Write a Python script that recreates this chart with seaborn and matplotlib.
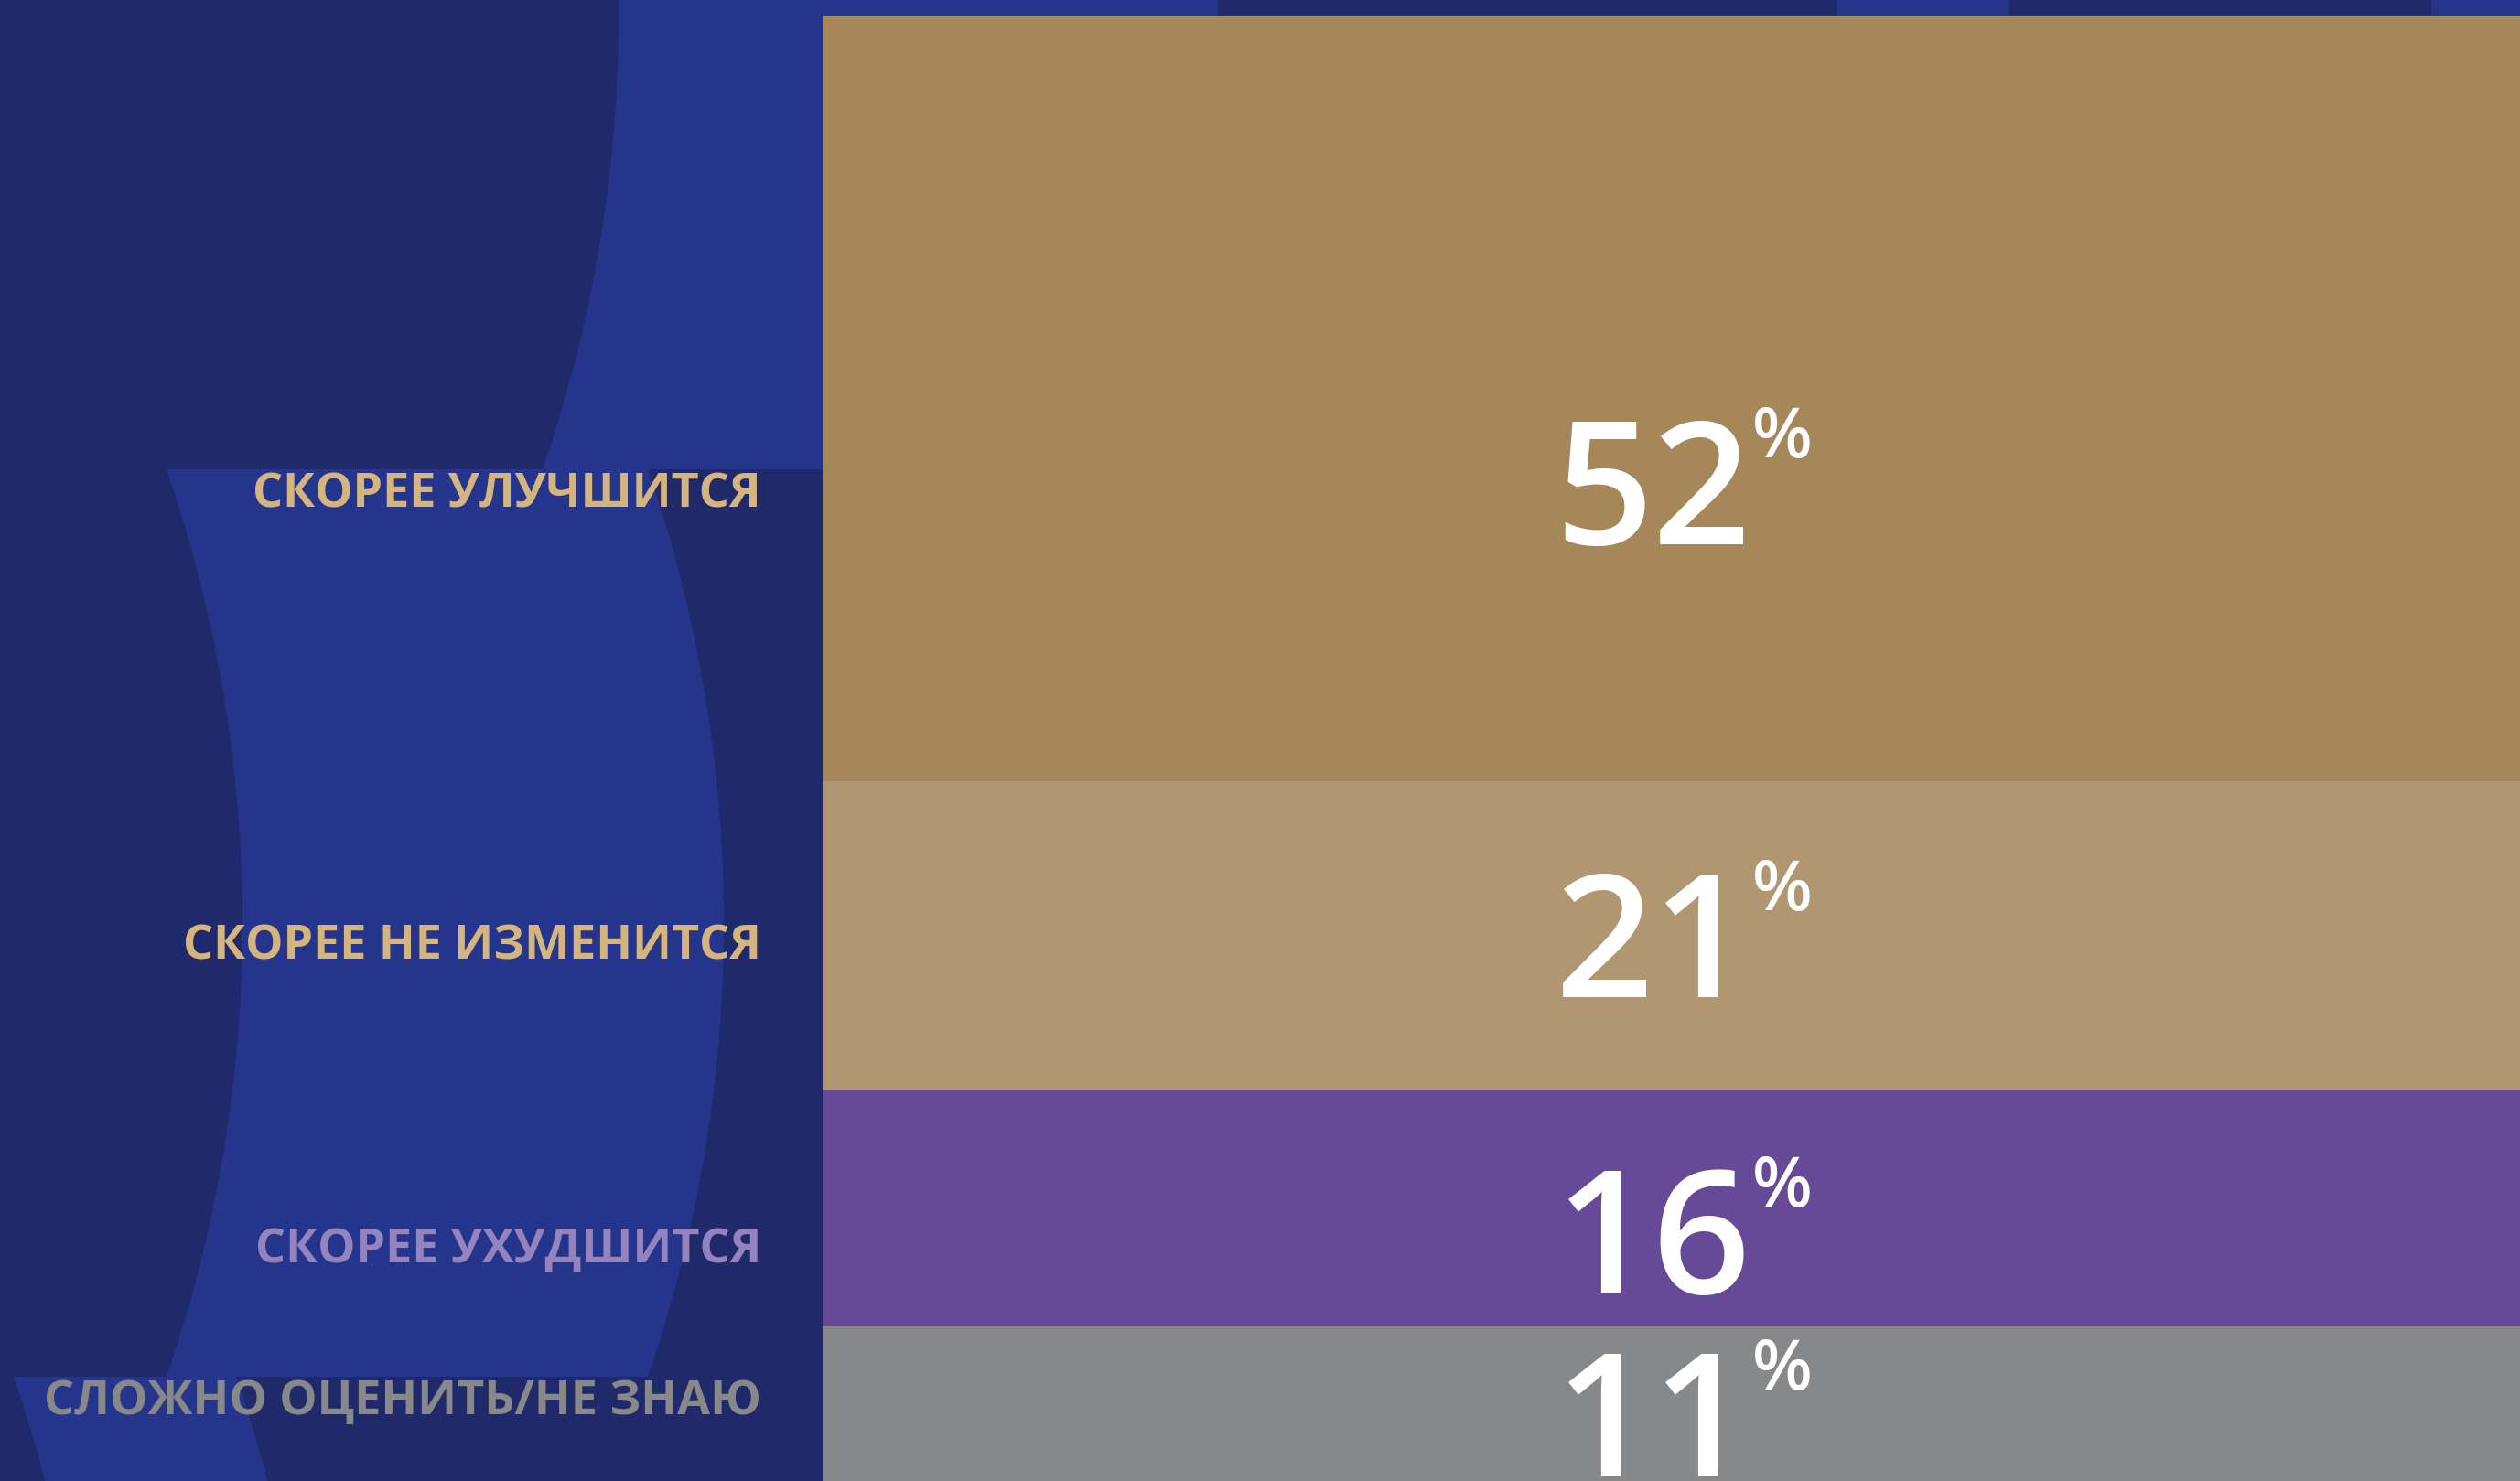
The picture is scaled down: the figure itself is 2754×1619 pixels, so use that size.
import numpy as np
import pandas as pd
import matplotlib.pyplot as plt
import seaborn as sns

# ──────────────────────────────────────────────────────────────────────
# Data
# ──────────────────────────────────────────────────────────────────────
answers = ['СКОРЕЕ УЛУЧШИТСЯ', 'СКОРЕЕ НЕ ИЗМЕНИТСЯ',
           'СКОРЕЕ УХУДШИТСЯ', 'СЛОЖНО ОЦЕНИТЬ/НЕ ЗНАЮ']
shares = [52, 21, 16, 11]

bar_colors = ['#a5875a', '#b09772', '#664a98', '#87888a']
label_colors = ['#d5b57f', '#d5b57f', '#9383bf', '#87888a']

# ──────────────────────────────────────────────────────────────────────
# Layout
# ──────────────────────────────────────────────────────────────────────
W, H, DPI = 2754, 1619, 100
BG_DARK = '#20296a'
BG_LIGHT = '#24358b'
BAR_LEFT, BAR_TOP = 899, 17        # px
PX_PER_PCT = 16.1
LABEL_RIGHT = 832                   # px, right edge of category labels
# where inside each segment (fraction from its top) the texts sit
num_frac = [0.61, 0.50, 0.60, 0.55]
cat_frac = [0.62, 0.52, 0.66, 0.44]

sns.set_style('white')
plt.rcParams['font.family'] = ['Open Sans', 'DejaVu Sans']

fig = plt.figure(figsize=(W / DPI, H / DPI), dpi=DPI)
fig.patch.set_facecolor(BG_DARK)

# decorative background (pixel coords, y down)
bg = fig.add_axes([0, 0, 1, 1], zorder=0)
bg.set_xlim(0, W)
bg.set_ylim(H, 0)
bg.axis('off')


def arc_band(y0, y1, yc, x_peak, width, R=1523.5):
    y = np.linspace(y0, y1, 200)
    xl = x_peak - R + np.sqrt(R ** 2 - (y - yc) ** 2)
    xr = xl + width
    bg.fill(np.concatenate([xl, xr[::-1]]), np.concatenate([y, y[::-1]]),
            color=BG_LIGHT, lw=0)


arc_band(0, 513, 17, 676, 655)
arc_band(513, 1505, 1009, 265, 526)
arc_band(1505, H, 2001, 98, 243)
bg.fill([2008, 2196, 2196, 2008], [0, 0, 60, 60], color=BG_LIGHT, lw=0)
bg.fill([2657, W, W, 2657], [0, 0, 60, 60], color=BG_LIGHT, lw=0)

# ──────────────────────────────────────────────────────────────────────
# Stacked bar
# ──────────────────────────────────────────────────────────────────────
ax_h = (H - BAR_TOP) / H
ax = fig.add_axes([BAR_LEFT / W, 0, 1 - BAR_LEFT / W, ax_h], zorder=1)
ax.patch.set_alpha(0)

df = pd.DataFrame({'q': 0, 'answer': answers, 'share': shares})
sns.histplot(df, x='q', hue='answer', weights='share', hue_order=answers,
             multiple='stack', discrete=True, shrink=1,
             palette=bar_colors, alpha=1, linewidth=0, legend=False, ax=ax)

span = (H - BAR_TOP) / PX_PER_PCT
ax.set_xlim(-0.5, 0.5)
ax.set_ylim(100 - span, 100)
ax.axis('off')

# segment tops (first answer on top)
tops = 100 - np.concatenate([[0], np.cumsum(shares)[:-1]])

for i, (name, val) in enumerate(zip(answers, shares)):
    y_num = tops[i] - num_frac[i] * val
    ax.annotate(f'{val}', xy=(0, y_num), xytext=(-20, -67),
                textcoords='offset pixels', ha='center', va='baseline',
                fontsize=135, fontweight='semibold', color='white',
                annotation_clip=False)
    ax.annotate('%', xy=(0, y_num), xytext=(-20 + 108, 28),
                textcoords='offset pixels', ha='left', va='baseline',
                fontsize=55, fontweight='semibold', color='white',
                annotation_clip=False)

    y_cat = tops[i] - cat_frac[i] * val
    ax.annotate(name, xy=(LABEL_RIGHT, y_cat),
                xycoords=('figure pixels', 'data'),
                xytext=(0, -18), textcoords='offset pixels',
                ha='right', va='baseline', fontsize=37.5,
                fontweight='bold', color=label_colors[i],
                annotation_clip=False)

fig.savefig('out.png', dpi=DPI, facecolor=BG_DARK)
